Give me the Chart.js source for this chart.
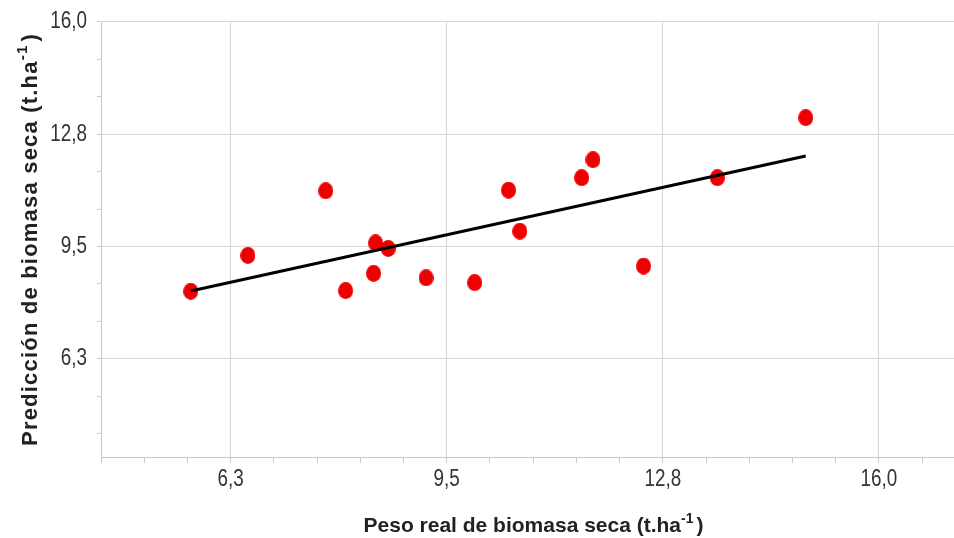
<!DOCTYPE html>
<html lang="es">
<head>
<meta charset="UTF-8">
<title>Biomasa seca</title>
<script src="https://cdn.jsdelivr.net/npm/chart.js"></script>
<style>
    html, body { margin: 0; padding: 0; background: #fff; }
    canvas { display: block; }
</style>
</head>
<body>
<canvas id="chartBiomasa" width="954" height="538"></canvas>

<script>
    // Datos
    const pesoReal   = [5.70, 6.56, 7.73, 8.03, 8.48, 8.67, 8.45, 9.24, 9.97, 10.48, 10.65, 11.58, 11.75, 12.51, 13.62, 14.95];
    const prediccion = [8.25, 9.29, 11.16, 8.27, 9.65, 9.49, 8.77, 8.64, 8.50, 11.18, 9.99, 11.54, 12.06, 8.98, 11.54, 13.28];

    // Recta de ajuste (extremos)
    const rectaX = [5.70, 14.95];
    const rectaY = [8.26, 12.17];

    // Marcas de los ejes
    const ticksX = [6.3, 9.55, 12.8, 16.05];
    const etiquetasX = ['6,3', '9,5', '12,8', '16,0'];
    const ticksY = [6.3, 9.55, 12.8, 16.05];
    const etiquetasY = ['6,3', '9,5', '12,8', '16,0'];

    // marcas mayores con etiqueta + menores sin etiqueta
    function construirTicks(scale, mayores, etiquetas, divisiones) {
        const paso = (mayores[1] - mayores[0]) / divisiones;
        const inicio = mayores[0] - Math.floor((mayores[0] - scale.min) / paso + 1e-9) * paso;
        const lista = [];
        for (let v = inicio; v <= scale.max + 1e-9; v += paso) {
            const i = mayores.findIndex(m => Math.abs(m - v) < 1e-6);
            lista.push({ value: v, etiqueta: i >= 0 ? etiquetas[i] : '' });
        }
        scale.ticks = lista;
    }

    function puntoElipse(w, h, color) {
        const c = document.createElement('canvas');
        c.width = w; c.height = h;
        const g = c.getContext('2d');
        g.fillStyle = color;
        g.beginPath();
        g.ellipse(w / 2, h / 2, w / 2, h / 2, 0, 0, Math.PI * 2);
        g.fill();
        return c;
    }

    function dibujarTitulo(ctx, texto, cx, base, tam, espaciado) {
        ctx.save();
        ctx.letterSpacing = espaciado;
        ctx.fillStyle = '#222';
        ctx.textBaseline = 'alphabetic';
        ctx.textAlign = 'left';
        const fPrin = 'bold ' + tam + 'px "Liberation Sans", Arial, sans-serif';
        const fSup = 'bold ' + Math.round(tam * 0.68) + 'px "Liberation Sans", Arial, sans-serif';
        ctx.font = fPrin;
        const w1 = ctx.measureText(texto).width;
        const w3 = ctx.measureText(')').width;
        ctx.font = fSup;
        const w2 = ctx.measureText('-1').width + 3;
        let x = cx - (w1 + w2 + w3) / 2;
        ctx.font = fPrin;
        ctx.fillText(texto, x, base);
        x += w1;
        ctx.font = fSup;
        ctx.fillText('-1', x, base - tam * 0.45);
        x += w2;
        ctx.font = fPrin;
        ctx.fillText(')', x, base);
        ctx.restore();
    }

    // etiquetas de las marcas, algo estrechas como en el original
    const etiquetasEjes = {
        id: 'etiquetasEjes',
        afterDraw(chart) {
            const ctx = chart.ctx;
            const xs = chart.scales.x;
            const ys = chart.scales.y;
            ctx.save();
            ctx.fillStyle = '#333';
            ctx.font = '23px "Liberation Sans", Arial, sans-serif';
            ctx.textBaseline = 'middle';
            ctx.textAlign = 'center';
            xs.ticks.forEach(t => {
                if (!t.etiqueta) return;
                ctx.save();
                ctx.translate(xs.getPixelForValue(t.value), xs.top + 23);
                ctx.scale(0.82, 1);
                ctx.fillText(t.etiqueta, 0, 0);
                ctx.restore();
            });
            ctx.textAlign = 'right';
            ys.ticks.forEach(t => {
                if (!t.etiqueta) return;
                ctx.save();
                ctx.translate(ys.right - 14, ys.getPixelForValue(t.value));
                ctx.scale(0.82, 1);
                ctx.fillText(t.etiqueta, 0, 0);
                ctx.restore();
            });
            ctx.restore();
        }
    };

    const titulosEjes = {
        id: 'titulosEjes',
        afterDraw(chart) {
            const ctx = chart.ctx;
            const area = chart.chartArea;
            dibujarTitulo(ctx, 'Peso real de biomasa seca (t.ha', (area.left + area.right) / 2 + 6, 532, 21, '0px');
            ctx.save();
            ctx.translate(37, (area.top + area.bottom) / 2);
            ctx.rotate(-Math.PI / 2);
            dibujarTitulo(ctx, 'Predicción de biomasa seca (t.ha', 0, 0, 22, '1.2px');
            ctx.restore();
        }
    };

    const colorGrilla = '#d6d6d6';
    const colorEje = '#c8c8c8';

    new Chart(document.getElementById('chartBiomasa'), {
        type: 'scatter',
        data: {
            datasets: [
                {
                    type: 'line',
                    data: rectaX.map((x, i) => ({ x: x, y: rectaY[i] })),
                    borderColor: '#000',
                    borderWidth: 3,
                    pointRadius: 0,
                    fill: false
                },
                {
                    data: pesoReal.map((x, i) => ({ x: x, y: prediccion[i] })),
                    pointStyle: puntoElipse(15, 17, 'rgb(238,0,0)'),
                    pointRadius: 8
                }
            ]
        },
        plugins: [etiquetasEjes, titulosEjes],
        options: {
            responsive: false,
            devicePixelRatio: 1,
            animation: false,
            layout: { autoPadding: false, padding: { top: 22, right: 0, left: 0, bottom: 0 } },
            plugins: { legend: { display: false }, tooltip: { enabled: false } },
            scales: {
                x: {
                    type: 'linear',
                    min: 4.35,
                    max: 17.18,
                    afterBuildTicks: s => construirTicks(s, ticksX, etiquetasX, 5),
                    afterFit: s => { s.height = 81; s.paddingLeft = 0; s.paddingRight = 0; },
                    grid: {
                        color: c => (c.tick && c.tick.etiqueta) ? colorGrilla : 'transparent',
                        tickColor: colorEje,
                        tickLength: 6
                    },
                    border: { color: colorEje },
                    ticks: {
                        autoSkip: false,
                        maxRotation: 0,
                        font: { size: 10 },
                        callback: () => ''
                    }
                },
                y: {
                    type: 'linear',
                    min: 3.45,
                    max: 16.05,
                    afterBuildTicks: s => construirTicks(s, ticksY, etiquetasY, 3),
                    afterFit: s => { s.width = 101; s.paddingTop = 0; s.paddingBottom = 0; },
                    grid: {
                        color: c => (c.tick && c.tick.etiqueta) ? colorGrilla : 'transparent',
                        tickColor: colorEje,
                        tickLength: 4
                    },
                    border: { color: colorEje },
                    ticks: {
                        autoSkip: false,
                        font: { size: 10 },
                        callback: () => ''
                    }
                }
            }
        }
    });
</script>
</body>
</html>
